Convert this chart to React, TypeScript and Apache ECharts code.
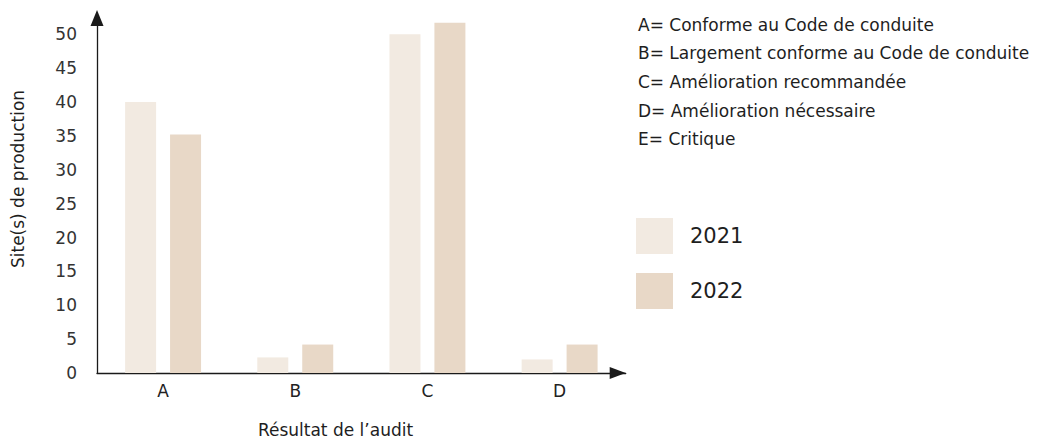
import React, { useEffect, useRef } from "react";
import * as echarts from "echarts";

const categories = ["A", "B", "C", "D"];
const values2021 = [40, 2.3, 50, 2];
const values2022 = [35.2, 4.2, 51.7, 4.2];
const seriesNames = ["2021", "2022"];
const yTicks = { min: 0, max: 52.4, interval: 5 };
const definitions = [
  "A= Conforme au Code de conduite",
  "B= Largement conforme au Code de conduite",
  "C= Amélioration recommandée",
  "D= Amélioration nécessaire",
  "E= Critique",
];
const xAxisTitle = "Résultat de l\u2019audit";
const yAxisTitle = "Site(s) de production";

const FONT = "DejaVu Sans";
const colors = ["#f2eae1", "#e8d8c7"];

export default function App() {
  const ref = useRef<HTMLDivElement>(null);
  useEffect(() => {
    if (!ref.current) return;
    const chart = echarts.init(ref.current, null, { renderer: "svg" });
    const defTexts = definitions.map((t, i) => ({
      type: "text",
      left: 638,
      top: 16 + i * 28.7,
      style: { text: t, font: `17px "${FONT}"`, fill: "#1e1e1e" },
    }));
    chart.setOption({
      animation: false,
      backgroundColor: "#ffffff",
      textStyle: { fontFamily: FONT },
      grid: { left: 97, top: 18, width: 528.7, height: 355, containLabel: false },
      xAxis: {
        type: "category",
        data: categories,
        axisLine: {
          show: true,
          lineStyle: { color: "#1a1a1a", width: 1.3 },
          symbol: ["none", "triangle"],
          symbolSize: [12, 16],
          symbolOffset: [0, -8],
        },
        axisTick: { show: false },
        axisLabel: { color: "#222", fontSize: 17, margin: 9, fontFamily: FONT },
      },
      yAxis: {
        type: "value",
        min: yTicks.min,
        max: yTicks.max,
        interval: yTicks.interval,
        axisLine: {
          show: true,
          lineStyle: { color: "#1a1a1a", width: 1.3 },
          symbol: ["none", "triangle"],
          symbolSize: [13, 16],
        },
        axisTick: { show: false },
        splitLine: { show: false },
        axisLabel: {
          color: "#333",
          fontSize: 17,
          margin: 20,
          fontFamily: FONT,
          showMaxLabel: false,
          formatter: (v: number) => (v % 5 === 0 ? String(v) : ""),
        },
      },
      legend: {
        orient: "vertical",
        left: 636,
        top: 218,
        padding: 0,
        itemWidth: 37,
        itemHeight: 36,
        itemGap: 19,
        icon: "rect",
        selectedMode: false,
        data: seriesNames,
        textStyle: { fontSize: 21, color: "#1e1e1e", fontFamily: FONT, padding: [0, 0, 0, 12] },
      },
      series: [
        {
          name: seriesNames[0],
          type: "bar",
          data: values2021,
          barWidth: 31,
          barGap: "45%",
          itemStyle: { color: colors[0] },
        },
        {
          name: seriesNames[1],
          type: "bar",
          data: values2022,
          barWidth: 31,
          barGap: "45%",
          itemStyle: { color: colors[1] },
        },
      ],
      graphic: [
        ...defTexts,
        {
          type: "text",
          x: 335.5,
          y: 430,
          style: {
            text: xAxisTitle,
            font: `17px "${FONT}"`,
            fill: "#1e1e1e",
            align: "center",
            verticalAlign: "middle",
          },
        },
        {
          type: "text",
          x: 18,
          y: 179,
          rotation: Math.PI / 2,
          style: {
            text: yAxisTitle,
            font: `17px "${FONT}"`,
            fill: "#1e1e1e",
            align: "center",
            verticalAlign: "middle",
          },
        },
      ],
    });
    return () => chart.dispose();
  }, []);
  return (
    <div
      ref={ref}
      style={{ position: "absolute", left: 0, top: 0, width: 1044, height: 441 }}
    />
  );
}
